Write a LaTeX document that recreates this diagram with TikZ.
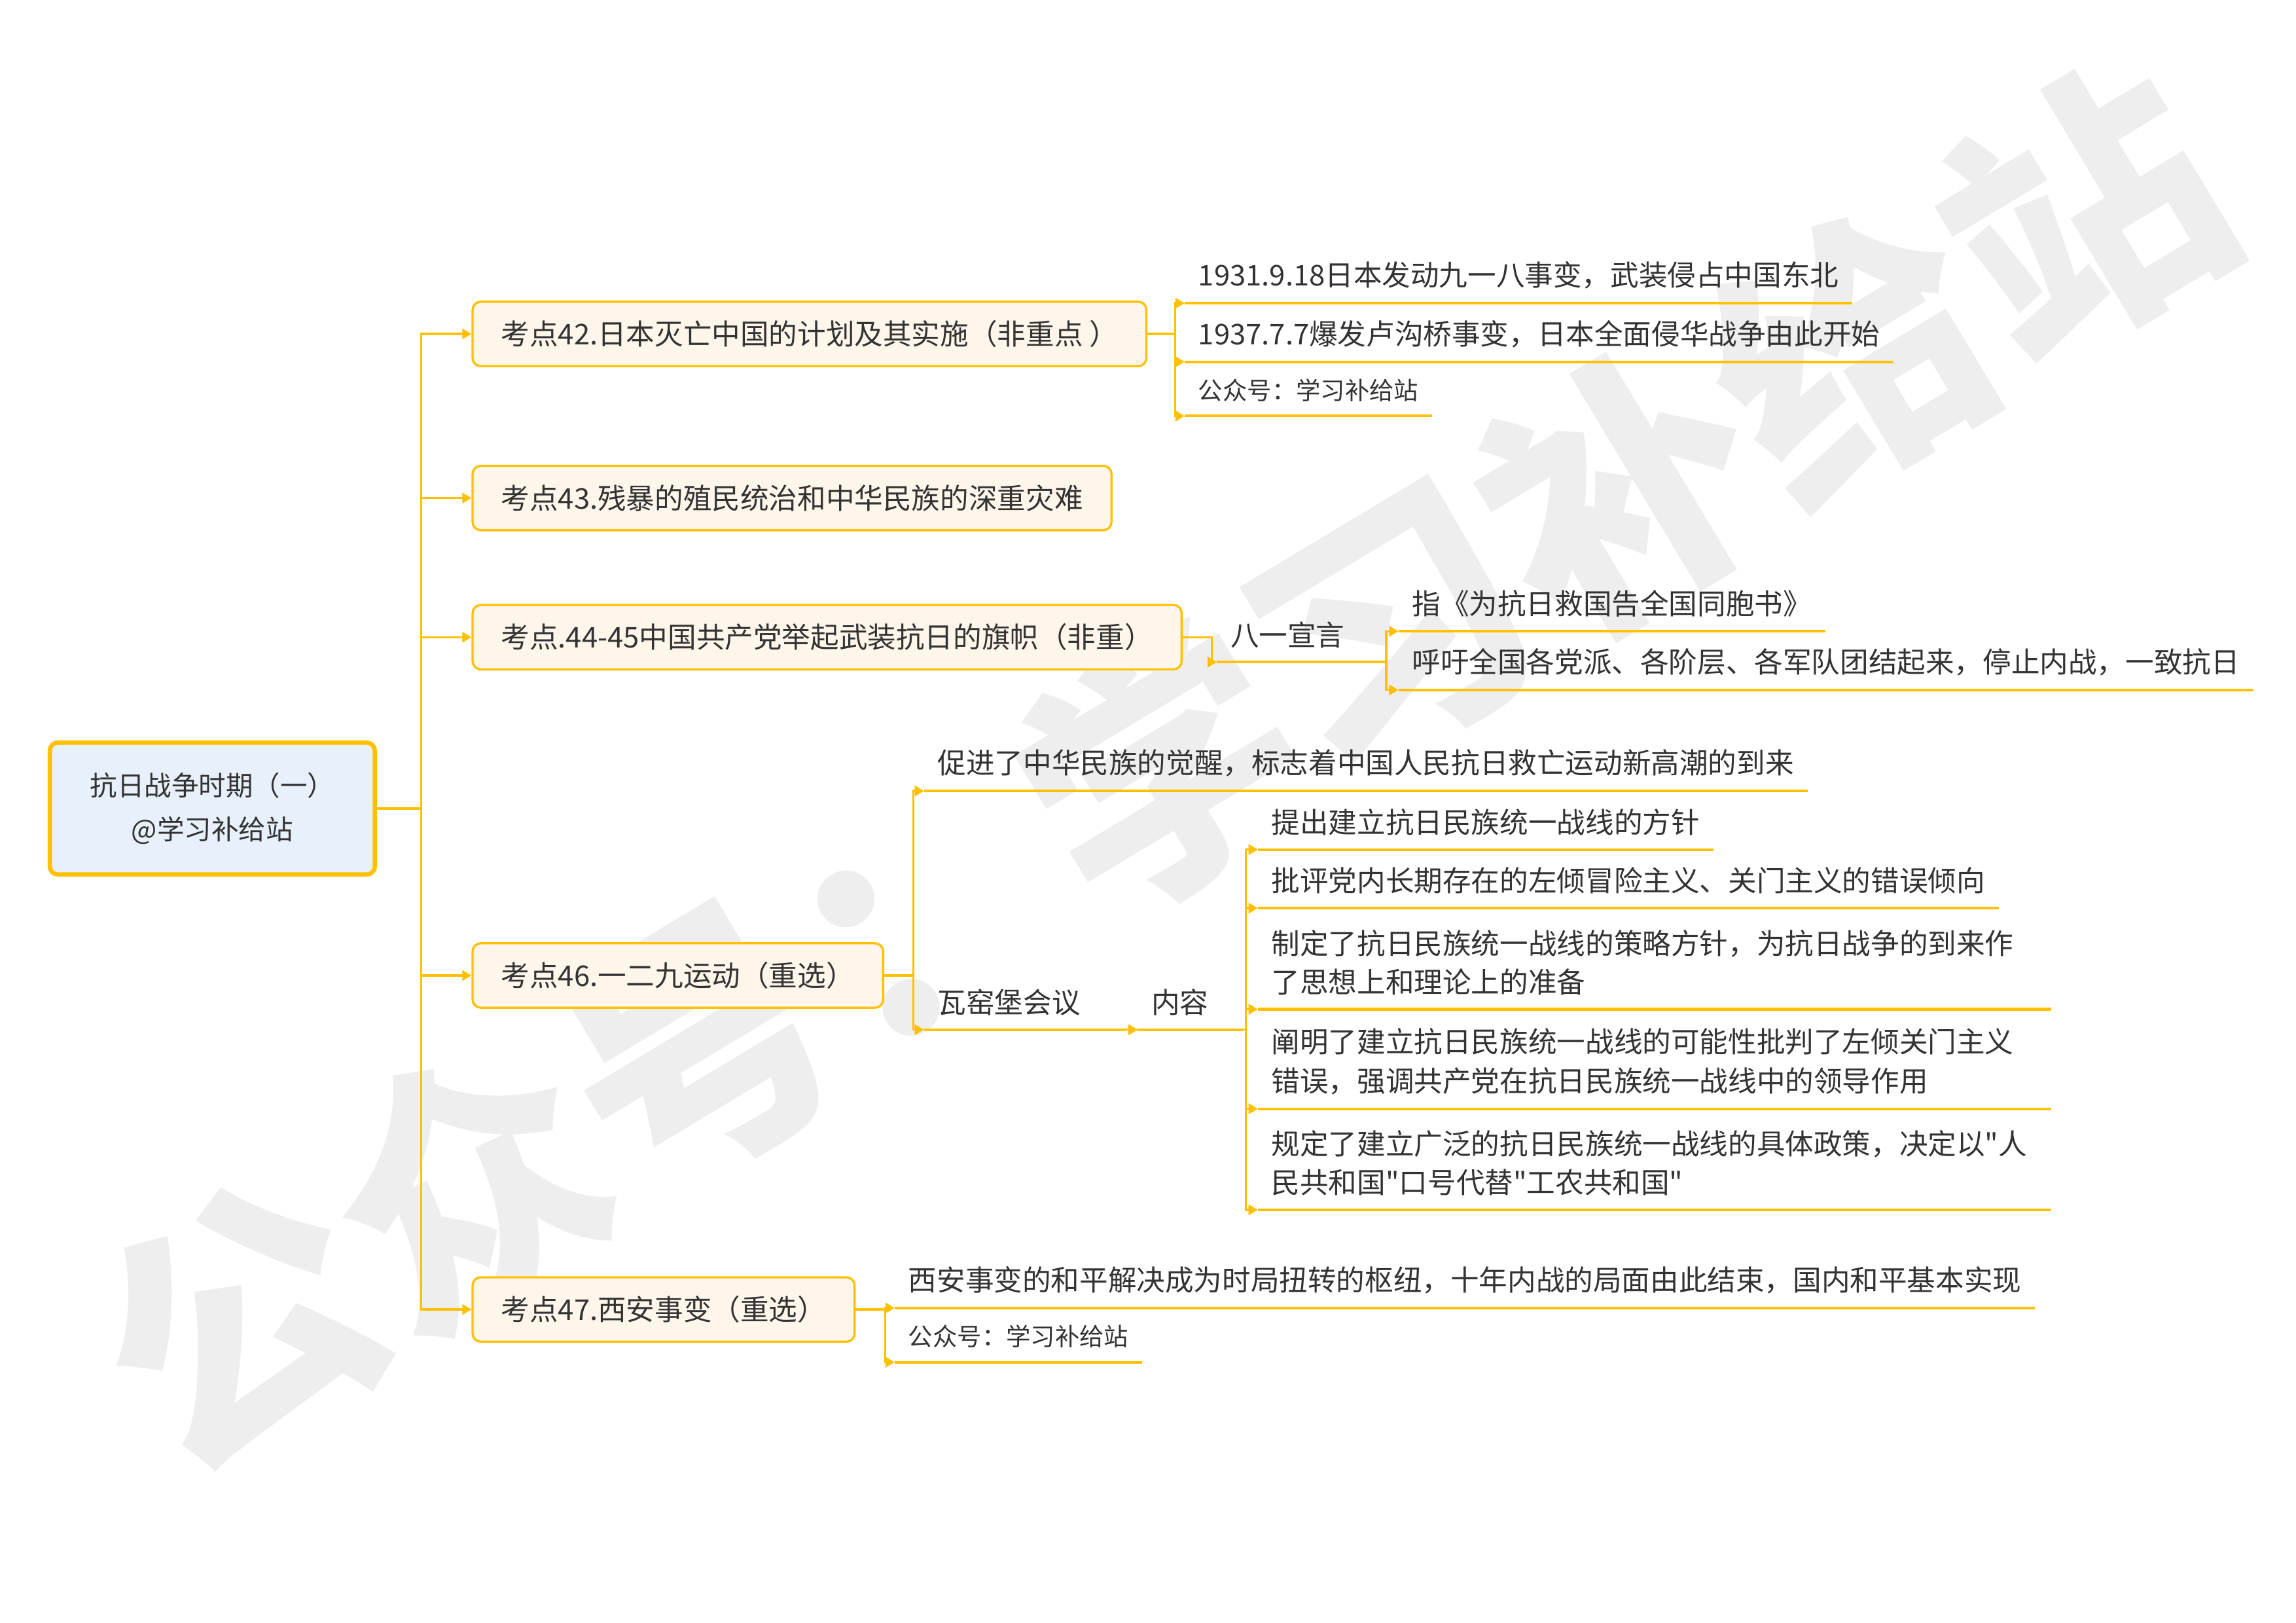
\documentclass[tikz,border=0pt]{standalone}
\usepackage{fontspec}
\setmainfont{Noto Sans CJK SC}[Ligatures=TeXOff]
\usepackage{xcolor}
\definecolor{mmgold}{RGB}{255,192,0}
\definecolor{mmcream}{RGB}{254,246,234}
\definecolor{mmblue}{RGB}{232,241,251}
\definecolor{mmtext}{RGB}{51,51,51}
\definecolor{mmmark}{RGB}{238,238,238}
\usetikzlibrary{arrows.meta,positioning}

\begin{document}
\begin{tikzpicture}[
  x=0.018941cm, y=-0.018941cm,
  every node/.style={font=\fontsize{10.5}{14.3}\selectfont, text=mmtext},
  rootbox/.style={draw=mmgold,line width=1.6pt,fill=mmblue,rounded corners=3pt,
                  minimum width=119.6pt,minimum height=48.5pt,align=center,
                  font=\fontsize{10}{16}\selectfont},
  topicbox/.style={draw=mmgold,line width=0.8pt,fill=mmcream,rounded corners=3pt,
                   minimum height=23.7pt,inner xsep=10.5pt,anchor=west},
  leaf/.style={anchor=south west,inner xsep=4.85pt,inner ysep=5pt,align=left},
  small/.style={font=\fontsize{9}{12}\selectfont},
  link/.style={draw=mmgold,line width=0.8pt,-{Triangle[length=3.4pt,width=3.8pt]}},
  uline/.style={draw=mmgold,line width=1pt},
  wmark/.style={text=mmmark,rotate=31,font=\fontsize{99}{99}\selectfont\bfseries},
]
  \useasboundingbox (0,0) rectangle (1568,1108);

  % watermark
  \node[wmark] (wm) at (792,524) {公众号：学习补给站};

  % Root
  \node[rootbox] (root) at (145,552) {抗日战争时期（一）\\@学习补给站};

  % Topics
  \node[topicbox] (k42) at (322,228) {考点42.日本灭亡中国的计划及其实施（非重点 ）};
  \node[topicbox] (k43) at (322,340) {考点43.残暴的殖民统治和中华民族的深重灾难};
  \node[topicbox] (k44) at (322,435) {考点.44-45中国共产党举起武装抗日的旗帜（非重）};
  \node[topicbox] (k46) at (322,666) {考点46.一二九运动（重选）};
  \node[topicbox] (k47) at (322,894) {考点47.西安事变（重选）};

  \foreach \k in {k42,k43,k44,k46,k47}
    \draw[link] (root.east) -- ++(30,0) |- (\k.west);

  % Topic 42
  \node[leaf] (a1) at (809,207) {1931.9.18日本发动九一八事变，武装侵占中国东北};
  \node[leaf] (a2) at (809,247) {1937.7.7爆发卢沟桥事变，日本全面侵华战争由此开始};
  \node[leaf,small] (a3) at (809,284) {公众号：学习补给站};
  \foreach \n in {a1,a2,a3} {
    \draw[link] (k42.east) -- ++(19,0) |- (\n.south west);
    \draw[uline] (\n.south west) -- (\n.south east);
  }

  % Topic 44-45
  \node[leaf,text width=51.7pt] (by) at (831,452) {八一宣言};
  \draw[link] (k44.east) -- ++(20,0) |- (by.south west);
  \draw[uline] (by.south west) -- (by.south east);
  \node[leaf] (d1) at (955,431) {指《为抗日救国告全国同胞书》};
  \node[leaf] (d2) at (955,471) {呼吁全国各党派、各阶层、各军队团结起来，停止内战，一致抗日};
  \foreach \n in {d1,d2} {
    \draw[link] (by.south east) -- ++(1,0) |- (\n.south west);
    \draw[uline] (\n.south west) -- (\n.south east);
  }

  % Topic 46
  \node[leaf] (e1) at (631,540) {促进了中华民族的觉醒，标志着中国人民抗日救亡运动新高潮的到来};
  \node[leaf,text width=64pt] (wy) at (631,703) {瓦窑堡会议};
  \foreach \n in {e1,wy} {
    \draw[link] (k46.east) -- ++(20,0) |- (\n.south west);
    \draw[uline] (\n.south west) -- (\n.south east);
  }
  \node[leaf,text width=28.6pt] (nr) at (777,703) {内容};
  \draw[link] (wy.south east) -- (nr.south west);
  \draw[uline] (nr.south west) -- (nr.south east);

  \node[leaf] (c1) at (859,580) {提出建立抗日民族统一战线的方针};
  \node[leaf] (c2) at (859,620) {批评党内长期存在的左倾冒险主义、关门主义的错误倾向};
  \node[leaf,text width=281.9pt] (c3) at (859,689)
    {制定了抗日民族统一战线的策略方针，为抗日战争的到来作\\了思想上和理论上的准备};
  \node[leaf,text width=281.9pt] (c4) at (859,757)
    {阐明了建立抗日民族统一战线的可能性批判了左倾关门主义\\错误，强调共产党在抗日民族统一战线中的领导作用};
  \node[leaf,text width=281.9pt] (c5) at (859,826)
    {规定了建立广泛的抗日民族统一战线的具体政策，决定以"人\\民共和国"口号代替"工农共和国"};
  \foreach \n in {c1,c2,c3,c4,c5} {
    \draw[link] (nr.south east) -- ++(2,0) |- (\n.south west);
    \draw[uline] (\n.south west) -- (\n.south east);
  }

  % Topic 47
  \node[leaf] (f1) at (611,893) {西安事变的和平解决成为时局扭转的枢纽，十年内战的局面由此结束，国内和平基本实现};
  \node[leaf,small] (f2) at (611,930) {公众号：学习补给站};
  \foreach \n in {f1,f2} {
    \draw[link] (k47.east) -- ++(20,0) |- (\n.south west);
    \draw[uline] (\n.south west) -- (\n.south east);
  }
\end{tikzpicture}
\end{document}
